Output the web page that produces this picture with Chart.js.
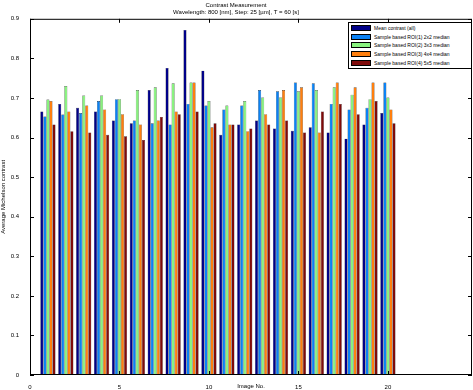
<!DOCTYPE html>
<html><head><meta charset="utf-8">
<script src="https://cdn.jsdelivr.net/npm/chart.js@4/dist/chart.umd.min.js"></script>
<style>
html,body{margin:0;padding:0;background:#fff;}
#wrap{position:relative;width:473px;height:390px;}
#legend{position:absolute;left:348px;top:22px;width:124px;border:1px solid #000;background:#fff;font:5px "Liberation Sans",Arial,sans-serif;padding:1px 0;box-sizing:border-box;}
#legend .row{display:flex;align-items:center;height:8.6px;}
#legend .sw{width:20px;height:6px;margin:0 3px 0 2px;border:0.5px solid #000;box-sizing:border-box;}
</style></head>
<body><div id="wrap"><canvas id="c" width="473" height="390"></canvas><div id="legend"></div></div>
<script>
const images = [1,2,3,4,5,6,7,8,9,10,11,12,13,14,15,16,17,18,19,20];
const seriesNames = ["Mean contrast (all)","Sample based ROI(1) 2x2 median","Sample based ROI(2) 3x3 median","Sample based ROI(3) 4x4 median","Sample based ROI(4) 5x5 median"];
const seriesColors = ["#000088","#0a82f5","#88f27e","#ff7f0e","#7f0a0a"];
const meanAll  = [0.666,0.685,0.675,0.666,0.643,0.636,0.720,0.776,0.872,0.769,0.607,0.633,0.643,0.623,0.617,0.626,0.613,0.597,0.633,0.662];
const roi1     = [0.653,0.658,0.662,0.692,0.697,0.643,0.636,0.633,0.685,0.681,0.671,0.681,0.720,0.717,0.739,0.737,0.685,0.671,0.675,0.739];
const roi2     = [0.696,0.730,0.706,0.706,0.697,0.720,0.727,0.737,0.739,0.692,0.681,0.692,0.701,0.701,0.717,0.720,0.727,0.708,0.697,0.701];
const roi3     = [0.692,0.666,0.681,0.671,0.659,0.633,0.643,0.666,0.739,0.626,0.633,0.616,0.659,0.720,0.727,0.613,0.739,0.727,0.739,0.671];
const roi4     = [0.633,0.616,0.613,0.607,0.603,0.594,0.652,0.659,0.666,0.636,0.633,0.623,0.633,0.643,0.613,0.666,0.685,0.659,0.692,0.636];
const yTicks = [0,0.1,0.2,0.3,0.4,0.5,0.6,0.7,0.8,0.9];
const xTicks = [0,5,10,15,20];
const titleLines = ["Contrast Measurement","Wavelength: 800 [nm], Step: 25 [\u00b5m], T = 60 [s]"];
const xTitle = "Image No.";
const yTitle = "Average Michelson contrast";

const allSeries = [meanAll, roi1, roi2, roi3, roi4];
const datasets = allSeries.map((vals,i)=>({
  label: seriesNames[i],
  data: vals.map((v,j)=>({x: images[j], y: v})),
  backgroundColor: seriesColors[i],
  borderColor: '#000',
  borderWidth: 0.4,
  barPercentage: 1.0,
  categoryPercentage: 0.85
}));

const lg = document.getElementById('legend');
seriesNames.forEach((n,i)=>{
  const r = document.createElement('div'); r.className='row';
  const s = document.createElement('div'); s.className='sw'; s.style.background=seriesColors[i];
  const t = document.createElement('span'); t.textContent = n;
  r.appendChild(s); r.appendChild(t); lg.appendChild(r);
});

const FONT = "'Liberation Sans', Arial, sans-serif";
const boxPlugin = {
  id:'box',
  afterDraw(chart){
    const {ctx, chartArea:a, scales:{x,y}} = chart;
    ctx.save();
    ctx.strokeStyle='#000'; ctx.lineWidth=1;
    ctx.strokeRect(a.left+0.5, a.top+0.5, a.right-a.left-1, a.bottom-a.top-1);
    ctx.beginPath();
    xTicks.forEach(v=>{const p=Math.round(x.getPixelForValue(v))+0.5; ctx.moveTo(p,a.bottom); ctx.lineTo(p,a.bottom-4); ctx.moveTo(p,a.top); ctx.lineTo(p,a.top+4);});
    yTicks.forEach(v=>{const p=Math.round(y.getPixelForValue(v))+0.5; ctx.moveTo(a.left,p); ctx.lineTo(a.left+4,p); ctx.moveTo(a.right,p); ctx.lineTo(a.right-4,p);});
    ctx.stroke();
    ctx.restore();
  }
};

new Chart(document.getElementById('c'), {
  type:'bar',
  data:{ datasets },
  options:{
    responsive:false, animation:false,
    layout:{padding:{left:0,right:1,top:0,bottom:0}},
    plugins:{
      legend:{display:false},
      tooltip:{enabled:false},
      title:{display:true, text:titleLines, color:'#000', font:{family:FONT,size:6,weight:'normal',lineHeight:1.15}, padding:{top:2,bottom:3}}
    },
    scales:{
      x:{type:'linear', min:0, max:24.7, offset:false,
        afterBuildTicks(s){ s.ticks = xTicks.map(v=>({value:v})); },
        afterFit(s){ s.height = 15; },
        ticks:{color:'#000', font:{family:FONT,size:6}, padding:1, maxRotation:0},
        grid:{display:false}, border:{display:false},
        title:{display:true, text:xTitle, color:'#000', font:{family:FONT,size:6}, padding:{top:0,bottom:0}}
      },
      y:{min:0, max:0.9,
        afterBuildTicks(s){ s.ticks = yTicks.map(v=>({value:v})); },
        afterFit(s){ s.width = 30; },
        ticks:{color:'#000', font:{family:FONT,size:6}, padding:3, callback:v=>String(Math.round(v*10)/10)},
        grid:{display:false}, border:{display:false},
        title:{display:true, text:yTitle, color:'#000', font:{family:FONT,size:6}, padding:{top:0,bottom:2}}
      }
    }
  },
  plugins:[boxPlugin]
});
</script></body></html>
